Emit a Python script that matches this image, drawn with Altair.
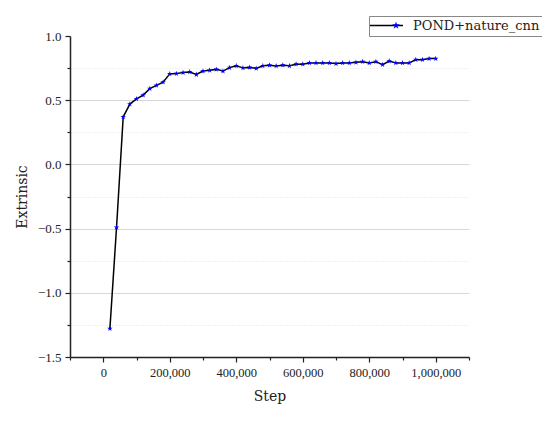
import altair as alt
import pandas as pd

steps = [20000 * i for i in range(1, 51)]
extrinsic = [
    -1.28, -0.49, 0.37, 0.47, 0.51, 0.54, 0.59, 0.615, 0.64, 0.705,
    0.707, 0.715, 0.72, 0.70, 0.727, 0.733, 0.74, 0.727, 0.754, 0.768,
    0.752, 0.755, 0.748, 0.768, 0.773, 0.767, 0.773, 0.768, 0.78, 0.78,
    0.79, 0.79, 0.79, 0.79, 0.785, 0.79, 0.79, 0.795, 0.80, 0.79,
    0.80, 0.777, 0.805, 0.79, 0.79, 0.79, 0.816, 0.816, 0.824, 0.824,
]
series_name = "POND+nature_cnn"

x_ticks = [-100000 + 100000 * i for i in range(13)]
y_ticks = [-1.5 + 0.25 * i for i in range(11)]

df = pd.DataFrame({"Step": steps, "Extrinsic": extrinsic,
                   "s1": series_name, "s2": series_name})

STAR = ("M0,-1L0.2245,-0.309L0.951,-0.309L0.363,0.118L0.588,0.809L0,0.382"
        "L-0.588,0.809L-0.363,0.118L-0.951,-0.309L-0.2245,-0.309Z")
# small star in the middle of the same 8-unit frame as the legend line
STAR_SMALL = ("M-4,0L-4,0M4,0L4,0"
              "M0,-0.6L0.1347,-0.1854L0.5706,-0.1854L0.2178,0.0708L0.3528,0.4854"
              "L0,0.2292L-0.3528,0.4854L-0.2178,0.0708L-0.5706,-0.1854L-0.1347,-0.1854Z")
LINE_SYM = "M-4,0L4,0"

FONT = "DejaVu Serif"
INK = "#222222"
BLUE = "#0000ff"

major_x = "abs(datum.value / 200000 - round(datum.value / 200000)) < 0.001"
major_y = "abs(datum.value * 2 - round(datum.value * 2)) < 0.001"

x_enc = alt.X(
    "Step:Q",
    scale=alt.Scale(domain=[-100000, 1100000], nice=False, zero=False),
    axis=alt.Axis(
        values=x_ticks,
        tickCount=30,
        labelExpr=f"(({major_x}) && datum.value > -1 && datum.value < 1000001) ? format(datum.value, ',') : ''",
        tickSize={"condition": {"test": major_x, "value": 5}, "value": 3},
        grid=False,
        title="Step",
        titleFont=FONT, titleFontSize=14, titleFontWeight="normal",
        titleColor=INK, titlePadding=11,
        labelFont="Liberation Serif", labelFontSize=12.5, labelColor=INK,
        labelPadding=4, labelFlush=False, labelOverlap=False,
        domainColor=INK, domainWidth=1.5, tickColor=INK, tickWidth=1.2,
    ),
)
y_enc = alt.Y(
    "Extrinsic:Q",
    scale=alt.Scale(domain=[-1.5, 1.0], nice=False, zero=False),
    axis=alt.Axis(
        values=y_ticks,
        tickCount=30,
        labelExpr=f"({major_y}) ? format(datum.value, '.1f') : ''",
        tickSize={"condition": {"test": major_y, "value": 5}, "value": 3},
        grid=True,
        gridColor={"condition": {"test": major_y, "value": "#d8d8d8"}, "value": "#e2e2e2"},
        gridDash={"condition": {"test": major_y, "value": []}, "value": [1, 2]},
        gridOpacity={"condition": {"test": "datum.value > 0.99", "value": 0}, "value": 1},
        gridWidth=1.2,
        title="Extrinsic",
        titleFont=FONT, titleFontSize=14, titleFontWeight="normal",
        titleColor=INK, titlePadding=8,
        labelFont="Liberation Serif", labelFontSize=13, labelColor=INK,
        labelPadding=4, labelOverlap=False,
        domainColor=INK, domainWidth=1.5, tickColor=INK, tickWidth=1.2,
    ),
)

line = alt.Chart(df).mark_line(strokeWidth=1.5).encode(
    x=x_enc, y=y_enc,
    color=alt.Color("s1:N", scale=alt.Scale(range=["#000000"]),
                    legend=alt.Legend(
                        title=None, orient="none", legendX=299, legendY=-20,
                        symbolType=LINE_SYM, symbolSize=68, symbolStrokeWidth=1.5,
                        symbolStrokeColor="#000000", symbolOffset=8,
                        labelFont=FONT, labelFontSize=13, labelColor=INK,
                        labelOffset=20, padding=3, strokeColor="#888888",
                        fillColor="#ffffff",
                    )),
)
pts = alt.Chart(df).mark_point(filled=True, size=34, color=BLUE, opacity=1).encode(
    x="Step:Q", y="Extrinsic:Q",
    shape=alt.Shape("s2:N", scale=alt.Scale(range=[STAR]),
                    legend=alt.Legend(
                        title=None, orient="none", legendX=299, legendY=-20,
                        symbolType=STAR_SMALL, symbolSize=68,
                        symbolFillColor=BLUE, symbolStrokeWidth=0,
                        symbolOffset=17.5,
                        labelFont=FONT, labelFontSize=13, labelOpacity=0,
                        labelOffset=20, padding=3,
                    )),
)

chart = alt.layer(line, pts).resolve_legend(color="independent", shape="independent").properties(
    width=399, height=321,
    autosize=alt.AutoSizeParams(type="none"),
    padding={"left": 62, "top": 28, "right": 73, "bottom": 57},
    background="#ffffff",
).configure_view(stroke=None)

chart.save("out.html", embed_options={"renderer": "svg", "actions": False})
